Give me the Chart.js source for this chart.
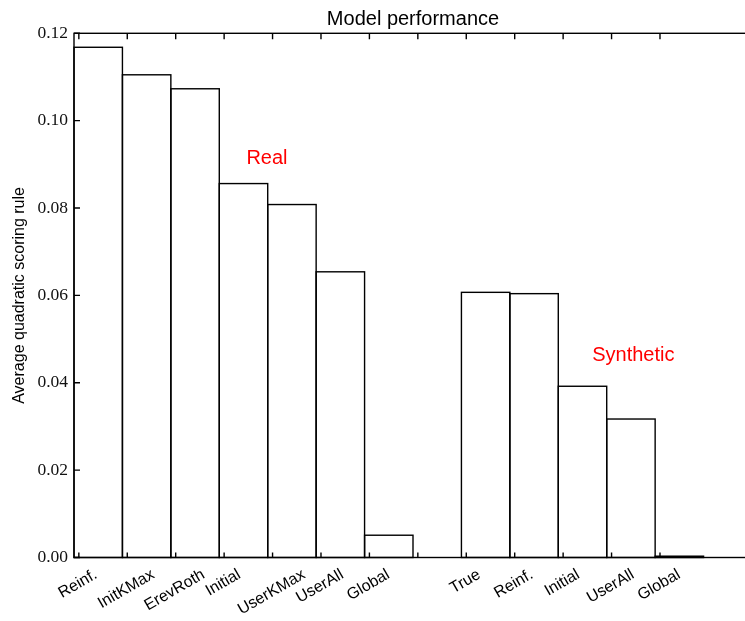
<!DOCTYPE html>
<html>
<head>
<meta charset="utf-8">
<script src="https://cdn.jsdelivr.net/npm/chart.js@4.4.1/dist/chart.umd.min.js"></script>
<style>
  html, body { margin: 0; padding: 0; background: #fff; overflow: hidden; }
  #wrap { width: 760px; height: 621px; }
</style>
</head>
<body>
<div id="wrap"><canvas id="perfChart"></canvas></div>
<script>
'use strict';

// Valeurs
var realLabels = ['Reinf.', 'InitKMax', 'ErevRoth', 'Initial', 'UserKMax', 'UserAll', 'Global'];
var realValues = [0.1168, 0.1105, 0.1073, 0.0856, 0.0808, 0.0654, 0.0051];
var synthLabels = ['True', 'Reinf.', 'Initial', 'UserAll', 'Global'];
var synthValues = [0.0607, 0.0604, 0.0392, 0.0317, 0.0003];
var yTicks = [0, 0.02, 0.04, 0.06, 0.08, 0.10, 0.12];
var groupNames = ['Real', 'Synthetic'];
var groupNotes = [{ x: 3.56, y: 0.090 }, { x: 10.7, y: 0.045 }];

var SANS = '"Liberation Sans", Arial, sans-serif';
var SERIF = '"Liberation Serif", "Times New Roman", serif';
var LINE = 1.4;

// Un emplacement vide entre les deux groupes
var slotLabels = realLabels.concat([''], synthLabels);
var synthStart = realLabels.length + 1;

var barPoints = [];
realValues.forEach(function (v, i) {
  barPoints.push({ x: i + 0.5, y: v });
});
synthValues.forEach(function (v, i) {
  barPoints.push({ x: synthStart + i + 0.5, y: v });
});

var frameAndLabels = {
  id: 'frameAndLabels',
  afterDatasetsDraw: function (chart) {
    var ctx = chart.ctx;
    var a = chart.chartArea;
    var xs = chart.scales.x;
    var ys = chart.scales.y;

    ctx.save();
    ctx.strokeStyle = '#000';
    ctx.lineWidth = LINE;

    // Contours des barres, centrés sur les bords comme dans matplotlib
    chart.getDatasetMeta(0).data.forEach(function (bar) {
      var p = bar.getProps(['x', 'y', 'base', 'width'], true);
      ctx.strokeRect(p.x - p.width / 2, p.y, p.width, p.base - p.y);
    });

    ctx.strokeRect(a.left, a.top, a.right - a.left, a.bottom - a.top);

    ctx.beginPath();
    ys.ticks.forEach(function (t) {
      var y = ys.getPixelForValue(t.value);
      ctx.moveTo(a.left, y);
      ctx.lineTo(a.left + 6, y);
    });
    xs.ticks.forEach(function (t) {
      var x = xs.getPixelForValue(t.value);
      ctx.moveTo(x, a.bottom);
      ctx.lineTo(x, a.bottom - 5);
      ctx.moveTo(x, a.top);
      ctx.lineTo(x, a.top + 6);
    });
    ctx.stroke();

    // Étiquettes inclinées, centrées sur le tick
    ctx.fillStyle = '#000';
    ctx.font = '16px ' + SANS;
    ctx.textAlign = 'center';
    ctx.textBaseline = 'middle';
    var ang = 30 * Math.PI / 180;
    xs.ticks.forEach(function (t, k) {
      var label = slotLabels[k];
      if (!label) {
        return;
      }
      var w = ctx.measureText(label).width;
      var h = 16 * 1.23;
      var boxH = w * Math.sin(ang) + h * Math.cos(ang);
      var cx = xs.getPixelForValue(t.value) - 1;
      var cy = a.bottom + 7.5 + boxH / 2;
      ctx.save();
      ctx.translate(cx, cy);
      ctx.rotate(-ang);
      ctx.fillText(label, 0, 0);
      ctx.restore();
    });

    // Noms des groupes en rouge
    ctx.fillStyle = '#ff0000';
    ctx.font = '20px ' + SANS;
    ctx.textAlign = 'left';
    ctx.textBaseline = 'alphabetic';
    groupNames.forEach(function (name, i) {
      ctx.fillText(name, xs.getPixelForValue(groupNotes[i].x), ys.getPixelForValue(groupNotes[i].y));
    });
    ctx.restore();
  }
};

document.addEventListener('DOMContentLoaded', function () {
  var canvas = document.getElementById('perfChart');
  var chartCtx = canvas.getContext('2d');

  new Chart(chartCtx, {
    type: 'bar',
    data: {
      datasets: [{
        label: 'Model performance',
        data: barPoints,
        backgroundColor: '#ffffff',
        borderWidth: 0,
        inflateAmount: 0,
        barPercentage: 1,
        categoryPercentage: 1
      }]
    },
    options: {
      animation: false,
      responsive: true,
      maintainAspectRatio: false,
      devicePixelRatio: 1,
      layout: { padding: { left: 0, right: 8, top: 0, bottom: 0 } },
      scales: {
        x: {
          type: 'linear',
          min: 0,
          max: 14,
          offset: false,
          grid: { display: false, drawTicks: false },
          border: { display: false },
          ticks: { display: false },
          afterBuildTicks: function (scale) {
            scale.ticks = slotLabels.map(function (l, k) {
              return { value: k + 0.1 };
            });
          },
          afterFit: function (scale) {
            scale.height = 63.5;
          }
        },
        y: {
          min: 0,
          max: 0.12,
          grid: { display: false, drawTicks: false },
          border: { display: false },
          ticks: {
            padding: 6,
            color: '#111',
            font: { family: SERIF, size: 17.5 },
            callback: function (v) {
              return Number(v).toFixed(2);
            }
          },
          afterBuildTicks: function (scale) {
            scale.ticks = yTicks.map(function (v) {
              return { value: v };
            });
          },
          afterFit: function (scale) {
            scale.width = 74;
          },
          title: {
            display: true,
            text: 'Average quadratic scoring rule',
            color: '#000',
            font: { family: SANS, size: 16 },
            padding: { top: 10, bottom: 0 }
          }
        }
      },
      plugins: {
        legend: { display: false },
        tooltip: { enabled: false },
        title: {
          display: true,
          text: 'Model performance',
          fullSize: false,
          color: '#000',
          font: { family: SANS, size: 20, weight: 'normal' },
          padding: { top: 7, bottom: 2.3 }
        }
      }
    },
    plugins: [frameAndLabels]
  });
});
</script>
</body>
</html>
